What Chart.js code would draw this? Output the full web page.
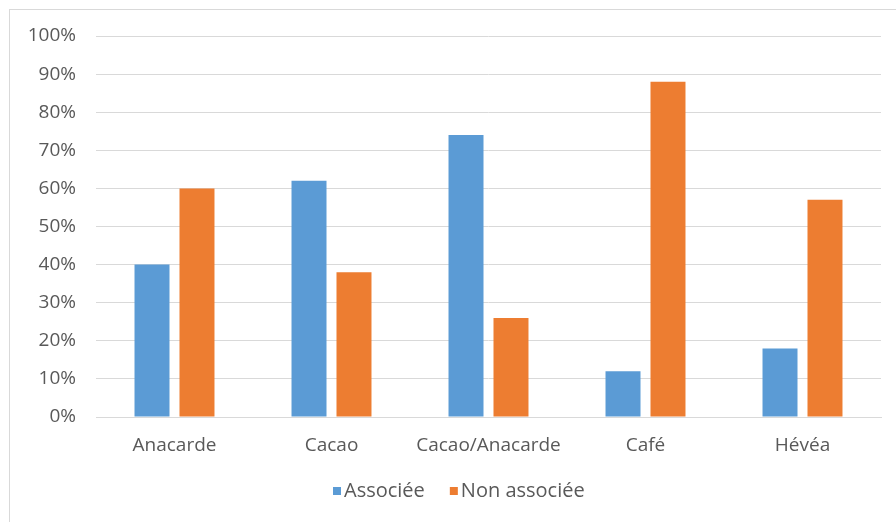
<!DOCTYPE html>
<html lang="fr">
<head>
<meta charset="utf-8">
<title>Associée / Non associée par culture</title>
<script src="https://cdn.jsdelivr.net/npm/chart.js@4/dist/chart.umd.min.js"></script>
<style>
  html, body { margin: 0; padding: 0; background: #ffffff; }
  #frame {
    position: relative;
    width: 896px;
    height: 522px;
    overflow: hidden;
  }
  #edge {
    position: absolute;
    left: 9px;
    top: 9px;
    right: -2px;
    bottom: -2px;
    border-top: 1px solid #d9d9d9;
    border-left: 1px solid #d9d9d9;
    pointer-events: none;
  }
  canvas { position: absolute; left: 0; top: 0; }
</style>
</head>
<body>
<div id="frame">
  <canvas id="chart" width="896" height="522"></canvas>
  <div id="edge"></div>
</div>
<script>
// Cultures along the x axis
const categories = ['Anacarde', 'Cacao', 'Cacao/Anacarde', 'Café', 'Hévéa'];

// Share of plots (%) per culture
const associee = [40, 62, 74, 12, 18];
const nonAssociee = [60, 38, 26, 88, 57];

// Y axis ticks (%)
const yTicks = [0, 10, 20, 30, 40, 50, 60, 70, 80, 90, 100];

const seriesNames = ['Associée', 'Non associée'];
const seriesColors = ['#5b9bd5', '#ed7d31'];

const FONT = '"Open Sans", "Liberation Sans", sans-serif';
const TEXT = '#595959';
const GRID = '#d9d9d9';

// Legend drawn under the axis labels: small square then the series name
const bottomLegend = {
  id: 'bottomLegend',
  afterDraw(chart) {
    const ctx = chart.ctx;
    ctx.save();
    ctx.font = '20px ' + FONT;
    ctx.textBaseline = 'middle';
    ctx.textAlign = 'left';
    let x = 333;
    const y = 491;
    chart.data.datasets.forEach(ds => {
      ctx.fillStyle = ds.backgroundColor;
      ctx.fillRect(x, y - 4, 8, 8);
      x += 8 + 3;
      ctx.fillStyle = TEXT;
      ctx.fillText(ds.label, x, y);
      x += ctx.measureText(ds.label).width + 25;
    });
    ctx.restore();
  }
};

new Chart(document.getElementById('chart'), {
  type: 'bar',
  data: {
    labels: categories,
    datasets: [
      { label: seriesNames[0], data: associee, backgroundColor: seriesColors[0] },
      { label: seriesNames[1], data: nonAssociee, backgroundColor: seriesColors[1] }
    ]
  },
  options: {
    responsive: false,
    animation: false,
    devicePixelRatio: 1,
    categoryPercentage: 0.573,
    barPercentage: 0.778,
    layout: { padding: { top: 36, right: 15, bottom: 0, left: 0 } },
    plugins: {
      legend: { display: false },
      tooltip: { enabled: false }
    },
    scales: {
      x: {
        grid: { display: false, drawTicks: false },
        border: { display: true, color: GRID, width: 1 },
        ticks: {
          color: TEXT,
          font: { family: FONT, size: 19 },
          padding: 17,
          maxRotation: 0,
          autoSkip: false
        },
        afterFit(scale) { scale.height = 105; }
      },
      y: {
        min: 0,
        max: 100,
        afterBuildTicks(scale) { scale.ticks = yTicks.map(v => ({ value: v })); },
        grid: { color: GRID, lineWidth: 1, drawTicks: false },
        border: { display: false },
        ticks: {
          color: TEXT,
          font: { family: FONT, size: 19 },
          padding: 20,
          callback: v => v + '%'
        },
        afterFit(scale) { scale.width = 96; }
      }
    }
  },
  plugins: [bottomLegend]
});
</script>
</body>
</html>
